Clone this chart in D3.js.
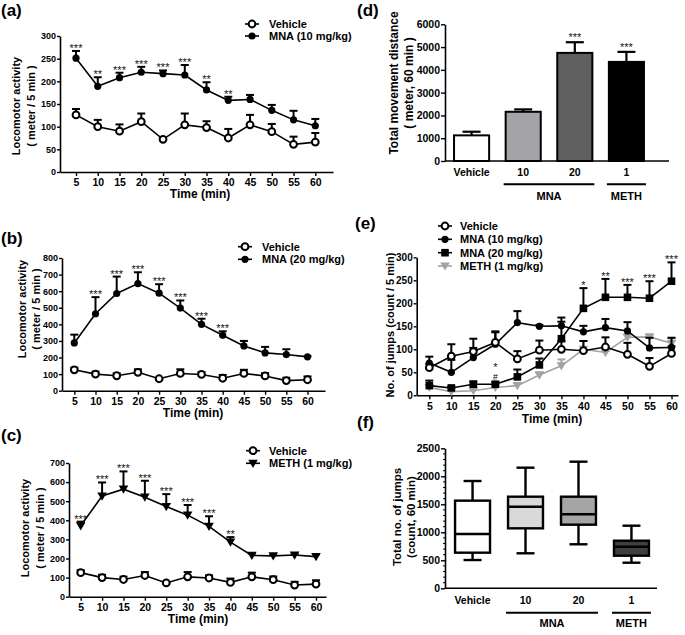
<!DOCTYPE html>
<html>
<head>
<meta charset="utf-8">
<title>Locomotor activity and jumps</title>
<script src="https://cdn.jsdelivr.net/npm/d3@7"></script>
<style>
body { margin: 0; background: #fff; }
svg { font-family: "Liberation Sans", Arial, sans-serif; font-weight: bold; }
</style>
</head>
<body>
<script>
// time points (min)
const times = [5, 10, 15, 20, 25, 30, 35, 40, 45, 50, 55, 60];

// locomotor activity (meter / 5 min); the vehicle group is the same in a, b, c
const vehicleLoco    = [126, 100, 90, 111, 72, 104, 98, 75, 104, 89, 61, 66];
const vehicleLocoErr = [13, 15, 15, 18, 3, 25, 14, 20, 22, 17, 17, 20];
const mna10Loco      = [251, 189, 208, 220, 217, 214, 181, 158, 160, 136, 115, 102];
const mna10LocoErr   = [16, 20, 11, 12, 7, 22, 17, 8, 10, 12, 20, 15];
const mna10Stars     = ["***", "**", "***", "***", "***", "***", "**", "**", "", "", "", ""];
const mna20Loco      = [288, 464, 586, 646, 588, 498, 400, 334, 270, 228, 218, 204];
const mna20LocoErr   = [50, 100, 102, 68, 54, 46, 34, 24, 30, 36, 32, 4];
const mna20Stars     = ["", "***", "***", "***", "***", "***", "***", "***", "", "", "", ""];
const methLoco       = [371, 527, 563, 521, 472, 427, 368, 286, 216, 214, 218, 210];
const methLocoErr    = [22, 71, 93, 86, 65, 53, 53, 26, 10, 3, 7, 12];
const methStars      = ["***", "***", "***", "***", "***", "***", "***", "**", "", "", "", ""];

// total distance (meter, 60 min)
const groups        = ["Vehicle", "10", "20", "1"];
const totalDist     = [1125, 2160, 4745, 4350];
const totalDistErr  = [160, 105, 468, 440];
const totalDistStars = ["", "", "***", "***"];

// jumps (count / 5 min)
const vehicleJumps    = [60, 85, 95, 115, 79, 98, 100, 97, 105, 89, 63, 91];
const vehicleJumpsErr = [8, 26, 8, 22, 17, 21, 18, 21, 21, 25, 18, 15];
const mna10Jumps      = [70, 50, 82, 111, 158, 150, 151, 138, 147, 140, 103, 104];
const mna10JumpsErr   = [14, 27, 41, 28, 25, 3, 18, 13, 19, 19, 22, 21];
const mna20Jumps      = [21, 16, 24, 24, 40, 66, 123, 189, 213, 213, 211, 248];
const mna20JumpsErr   = [11, 3, 6, 5, 16, 14, 37, 44, 40, 27, 37, 41];
const methJumps       = [17, 8, 10, 17, 21, 44, 64, 100, 93, 126, 127, 113];
const methJumpsErr    = [5, 3, 3, 3, 5, 6, 14, 18, 3, 6, 3, 12];
const jumpStars       = ["", "", "", "*", "", "", "", "*", "**", "***", "***", "***"];
const jumpHash        = ["", "", "", "#", "", "", "", "", "", "", "", ""];

// total jumps (count, 60 min) box stats
const jumpMin    = [505, 625, 786, 457];
const jumpQ1     = [636, 1071, 1136, 582];
const jumpMedian = [970, 1457, 1321, 743];
const jumpQ3     = [1565, 1636, 1636, 850];
const jumpMax    = [1916, 2154, 2261, 1118];

const drugGroups = [["MNA", "10", "20"], ["METH", "1", "1"]];

const svg = d3.select("body").append("svg")
    .attr("width", 685)
    .attr("height", 635);

svg.append("rect").attr("width", 685).attr("height", 635).attr("fill", "#fff");

function styleAxis(g, size) {
  g.attr("font-family", null).attr("font-size", null);
  g.select(".domain").attr("stroke-width", 1.6);
  g.selectAll(".tick line").attr("stroke-width", 1.4);
  g.selectAll(".tick text").attr("font-size", size || 10.5).attr("fill", "#000");
}

function marker(g, type, x, y, color) {
  if (type == "open") {
    g.append("circle").attr("cx", x).attr("cy", y).attr("r", 3.4)
      .attr("fill", "#fff").attr("stroke", color).attr("stroke-width", 2);
  } else if (type == "dot") {
    g.append("circle").attr("cx", x).attr("cy", y).attr("r", 3.6).attr("fill", color);
  } else if (type == "square") {
    g.append("rect").attr("x", x - 3.8).attr("y", y - 3.8).attr("width", 7.6).attr("height", 7.6).attr("fill", color);
  } else if (type == "tri") {
    g.append("path").attr("d", `M${x - 4.8},${y - 3.6}L${x + 4.8},${y - 3.6}L${x},${y + 4.6}Z`).attr("fill", color);
  }
}

function yLabel(lines, xs, cy, size) {
  lines.forEach(function(t, i) {
    svg.append("text")
      .attr("transform", `translate(${xs[i] + size * 0.36},${cy}) rotate(-90)`)
      .attr("text-anchor", "middle")
      .attr("font-size", size)
      .text(t);
  });
}

function title(t, x, y) {
  svg.append("text").attr("x", x).attr("y", y).attr("font-size", 17).text(t);
}

function linePanel(p) {
  const xs = d3.scaleLinear().domain([5, 60]).range([p.x5, p.x60]);
  const x = d3.scaleLinear().domain([xs.invert(p.axisL), xs.invert(p.axisR)]).range([p.axisL, p.axisR]);
  const y = d3.scaleLinear().domain([0, p.yMax]).range([p.y0, p.yTop]);
  const g = svg.append("g");

  g.append("g").attr("transform", `translate(0,${p.y0})`)
    .call(d3.axisBottom(x).tickValues(times).tickSize(4).tickSizeOuter(0))
    .call(styleAxis, 10.5);
  g.append("g").attr("transform", `translate(${p.axisL},0)`)
    .call(d3.axisLeft(y).tickValues(d3.range(0, p.yMax + 1, p.yStep)).tickSize(3).tickPadding(1).tickSizeOuter(0))
    .call(styleAxis, p.yTickSize);

  p.series.forEach(function(s) {
    // error bars (upper only)
    s.values.forEach(function(v, i) {
      const cx = x(times[i]), top = y(v + s.errors[i]);
      g.append("line").attr("x1", cx).attr("x2", cx).attr("y1", y(v)).attr("y2", top)
        .attr("stroke", s.color).attr("stroke-width", 2);
      g.append("line").attr("x1", cx - 4).attr("x2", cx + 4).attr("y1", top).attr("y2", top)
        .attr("stroke", s.color).attr("stroke-width", 2);
    });
    g.append("path").datum(s.values)
      .attr("d", d3.line().x((d, i) => x(times[i])).y(d => y(d)))
      .attr("fill", "none").attr("stroke", s.color).attr("stroke-width", 1.6);
    s.values.forEach(function(v, i) { marker(g, s.marker, x(times[i]), y(v), s.color); });
    if (s.stars) {
      s.values.forEach(function(v, i) {
        let base = y(v + s.errors[i]) + 1;
        if (s.hash && s.hash[i]) {
          g.append("text").attr("x", x(times[i])).attr("y", base - 3).attr("text-anchor", "middle")
            .attr("font-size", 8.5).attr("font-weight", "normal").text(s.hash[i]);
          base -= 12;
        }
        if (s.stars[i]) {
          g.append("text").attr("x", x(times[i])).attr("y", base).attr("text-anchor", "middle")
            .attr("font-size", 11).attr("font-weight", "normal").attr("fill", "#111").text(s.stars[i]);
        }
      });
    }
  });

  // legend
  p.legend.forEach(function(l, i) {
    const ly = p.legendRows[i];
    g.append("line").attr("x1", p.legendX - 7).attr("x2", p.legendX + 7).attr("y1", ly).attr("y2", ly)
      .attr("stroke", l.color).attr("stroke-width", 1.6);
    marker(g, l.marker, p.legendX, ly, l.color);
    g.append("text").attr("x", p.legendTextX).attr("y", ly + 4).attr("font-size", 11).text(l.label);
  });

  svg.append("text").attr("x", p.xLabelX).attr("y", p.xLabelY).attr("text-anchor", "middle")
    .attr("font-size", 12).text("Time (min)");
  yLabel(p.yLabels, p.yLabelX, p.yLabelY, p.yLabelSize);
}

const vehicleSeries = {values: vehicleLoco, errors: vehicleLocoErr, marker: "open", color: "#000"};

// (a)
title("(a)", 1, 16);
linePanel({
  x5: 76, x60: 315.3, axisL: 60, axisR: 333,
  y0: 172, yTop: 36, yMax: 300, yStep: 50, yTickSize: 9,
  series: [vehicleSeries,
    {values: mna10Loco, errors: mna10LocoErr, marker: "dot", color: "#000", stars: mna10Stars}],
  legend: [{label: "Vehicle", marker: "open", color: "#000"}, {label: "MNA (10 mg/kg)", marker: "dot", color: "#000"}],
  legendX: 252, legendTextX: 269, legendRows: [24, 36],
  xLabelX: 200, xLabelY: 198,
  yLabels: ["Locomotor activity", "( meter / 5 min )"], yLabelX: [16, 31], yLabelY: 106, yLabelSize: 11
});

// (b)
title("(b)", 1, 244);
linePanel({
  x5: 74.3, x60: 307.5, axisL: 62, axisR: 325,
  y0: 390.7, yTop: 258, yMax: 800, yStep: 100, yTickSize: 9,
  series: [vehicleSeries,
    {values: mna20Loco, errors: mna20LocoErr, marker: "dot", color: "#000", stars: mna20Stars}],
  legend: [{label: "Vehicle", marker: "open", color: "#000"}, {label: "MNA (20 mg/kg)", marker: "dot", color: "#000"}],
  legendX: 245, legendTextX: 262, legendRows: [246.7, 259.3],
  xLabelX: 193, xLabelY: 417,
  yLabels: ["Locomotor activity", "( meter / 5 min )"], yLabelX: [22, 36], yLabelY: 309, yLabelSize: 11
});

// (c)
title("(c)", 1, 441);
linePanel({
  x5: 80.7, x60: 316, axisL: 69, axisR: 326,
  y0: 596.7, yTop: 463, yMax: 700, yStep: 100, yTickSize: 9,
  series: [vehicleSeries,
    {values: methLoco, errors: methLocoErr, marker: "tri", color: "#000", stars: methStars}],
  legend: [{label: "Vehicle", marker: "open", color: "#000"}, {label: "METH (1 mg/kg)", marker: "tri", color: "#000"}],
  legendX: 253, legendTextX: 269, legendRows: [450.7, 463.3],
  xLabelX: 198, xLabelY: 623,
  yLabels: ["Locomotor activity", "( meter / 5 min )"], yLabelX: [25, 40], yLabelY: 528, yLabelSize: 11
});

// (e)
title("(e)", 355, 229);
linePanel({
  x5: 429.3, x60: 671.5, axisL: 416.7, axisR: 678,
  y0: 395.3, yTop: 257.3, yMax: 300, yStep: 50, yTickSize: 10,
  series: [
    {values: methJumps, errors: methJumpsErr, marker: "tri", color: "#a3a3a3"},
    {values: mna20Jumps, errors: mna20JumpsErr, marker: "square", color: "#000", stars: jumpStars, hash: jumpHash},
    {values: mna10Jumps, errors: mna10JumpsErr, marker: "dot", color: "#000"},
    {values: vehicleJumps, errors: vehicleJumpsErr, marker: "open", color: "#000"}],
  legend: [{label: "Vehicle", marker: "open", color: "#000"},
    {label: "MNA (10 mg/kg)", marker: "dot", color: "#000"},
    {label: "MNA (20 mg/kg)", marker: "square", color: "#000"},
    {label: "METH (1 mg/kg)", marker: "tri", color: "#a3a3a3"}],
  legendX: 445, legendTextX: 460, legendRows: [226, 239.3, 252.7, 266],
  xLabelX: 552, xLabelY: 423,
  yLabels: ["No. of jumps (count / 5 min)"], yLabelX: [390], yLabelY: 325, yLabelSize: 11
});

function groupLabels(x, lineY, textY) {
  drugGroups.forEach(function(d) {
    const x1 = x(d[1]) - 2, x2 = x(d[2]) + x.bandwidth() + 2;
    svg.append("line").attr("x1", x1).attr("x2", x2).attr("y1", lineY).attr("y2", lineY)
      .attr("stroke", "#000").attr("stroke-width", 2);
    svg.append("text").attr("x", (x1 + x2) / 2).attr("y", textY).attr("text-anchor", "middle")
      .attr("font-size", 11).text(d[0]);
  });
}

// (d) bar chart
title("(d)", 357, 16);
{
  const x = d3.scaleBand().domain(groups).range([445, 653]).paddingInner(0.32).paddingOuter(0.175);
  const y = d3.scaleLinear().domain([0, 6000]).range([161, 24.3]);
  const fills = ["#ffffff", "#a4a4a8", "#5f5f5f", "#000000"];
  const g = svg.append("g");
  g.append("g").attr("transform", "translate(445,0)")
    .call(d3.axisLeft(y).tickValues(d3.range(0, 6001, 1000)).tickFormat(d3.format("d"))
      .tickSize(4).tickPadding(1).tickSizeOuter(0))
    .call(styleAxis, 10.5);
  groups.forEach(function(k, i) {
    const cx = x(k) + x.bandwidth() / 2, top = y(totalDist[i] + totalDistErr[i]);
    g.append("line").attr("x1", cx).attr("x2", cx).attr("y1", y(totalDist[i])).attr("y2", top)
      .attr("stroke", "#000").attr("stroke-width", 2.2);
    g.append("line").attr("x1", cx - 9).attr("x2", cx + 9).attr("y1", top).attr("y2", top)
      .attr("stroke", "#000").attr("stroke-width", 2.2);
    g.append("rect").attr("x", x(k)).attr("y", y(totalDist[i]))
      .attr("width", x.bandwidth()).attr("height", y(0) - y(totalDist[i]))
      .attr("fill", fills[i]).attr("stroke", "#000").attr("stroke-width", 2);
    if (totalDistStars[i]) {
      g.append("text").attr("x", cx).attr("y", top - 1).attr("text-anchor", "middle")
        .attr("font-size", 11).attr("font-weight", "normal").attr("fill", "#111").text(totalDistStars[i]);
    }
    g.append("text").attr("x", cx).attr("y", 175.5).attr("text-anchor", "middle")
      .attr("font-size", 10.5).text(k);
  });
  g.append("line").attr("x1", 445).attr("x2", 669).attr("y1", y(0)).attr("y2", y(0))
    .attr("stroke", "#000").attr("stroke-width", 1.6);
  groupLabels(x, 184.3, 200);
  yLabel(["Total movement distance", "( meter, 60 min )"], [394, 409], 83, 12);
}

// (f) box plot
title("(f)", 357, 428);
{
  const x = d3.scaleBand().domain(groups).range([445, 659]).paddingInner(0.34).paddingOuter(0.19);
  const y = d3.scaleLinear().domain([0, 2500]).range([588.3, 448.3]);
  const fills = ["#ffffff", "#d9d9d9", "#a5a5a5", "#3f3f3f"];
  const g = svg.append("g");
  g.append("g").attr("transform", "translate(445,0)")
    .call(d3.axisLeft(y).tickValues(d3.range(0, 2501, 500)).tickFormat(d3.format("d"))
      .tickSize(4).tickPadding(1).tickSizeOuter(0))
    .call(styleAxis, 10.5);
  // minor ticks
  g.selectAll(".minor").data(d3.range(100, 2500, 100).filter(v => v % 500 != 0)).enter()
    .append("line").attr("x1", 443).attr("x2", 445).attr("y1", d => y(d)).attr("y2", d => y(d))
    .attr("stroke", "#000").attr("stroke-width", 1);
  groups.forEach(function(k, i) {
    const x0 = x(k), w = x.bandwidth(), cx = x0 + w / 2;
    [[jumpQ3[i], jumpMax[i]], [jumpQ1[i], jumpMin[i]]].forEach(function(pr) {
      g.append("line").attr("x1", cx).attr("x2", cx).attr("y1", y(pr[0])).attr("y2", y(pr[1]))
        .attr("stroke", "#000").attr("stroke-width", 2.4);
      g.append("line").attr("x1", cx - 9).attr("x2", cx + 9).attr("y1", y(pr[1])).attr("y2", y(pr[1]))
        .attr("stroke", "#000").attr("stroke-width", 2.4);
    });
    g.append("rect").attr("x", x0).attr("y", y(jumpQ3[i])).attr("width", w)
      .attr("height", y(jumpQ1[i]) - y(jumpQ3[i]))
      .attr("fill", fills[i]).attr("stroke", "#000").attr("stroke-width", 2.4);
    g.append("line").attr("x1", x0).attr("x2", x0 + w).attr("y1", y(jumpMedian[i])).attr("y2", y(jumpMedian[i]))
      .attr("stroke", "#000").attr("stroke-width", 2.4);
    g.append("text").attr("x", cx).attr("y", 604).attr("text-anchor", "middle")
      .attr("font-size", 10.5).text(k);
  });
  g.append("line").attr("x1", 445).attr("x2", 657).attr("y1", y(0)).attr("y2", y(0))
    .attr("stroke", "#000").attr("stroke-width", 1.6);
  groupLabels(x, 612.7, 627);
  yLabel(["Total no. of jumps", "(count, 60 min)"], [397, 411], 517, 11.5);
}
</script>
</body>
</html>
